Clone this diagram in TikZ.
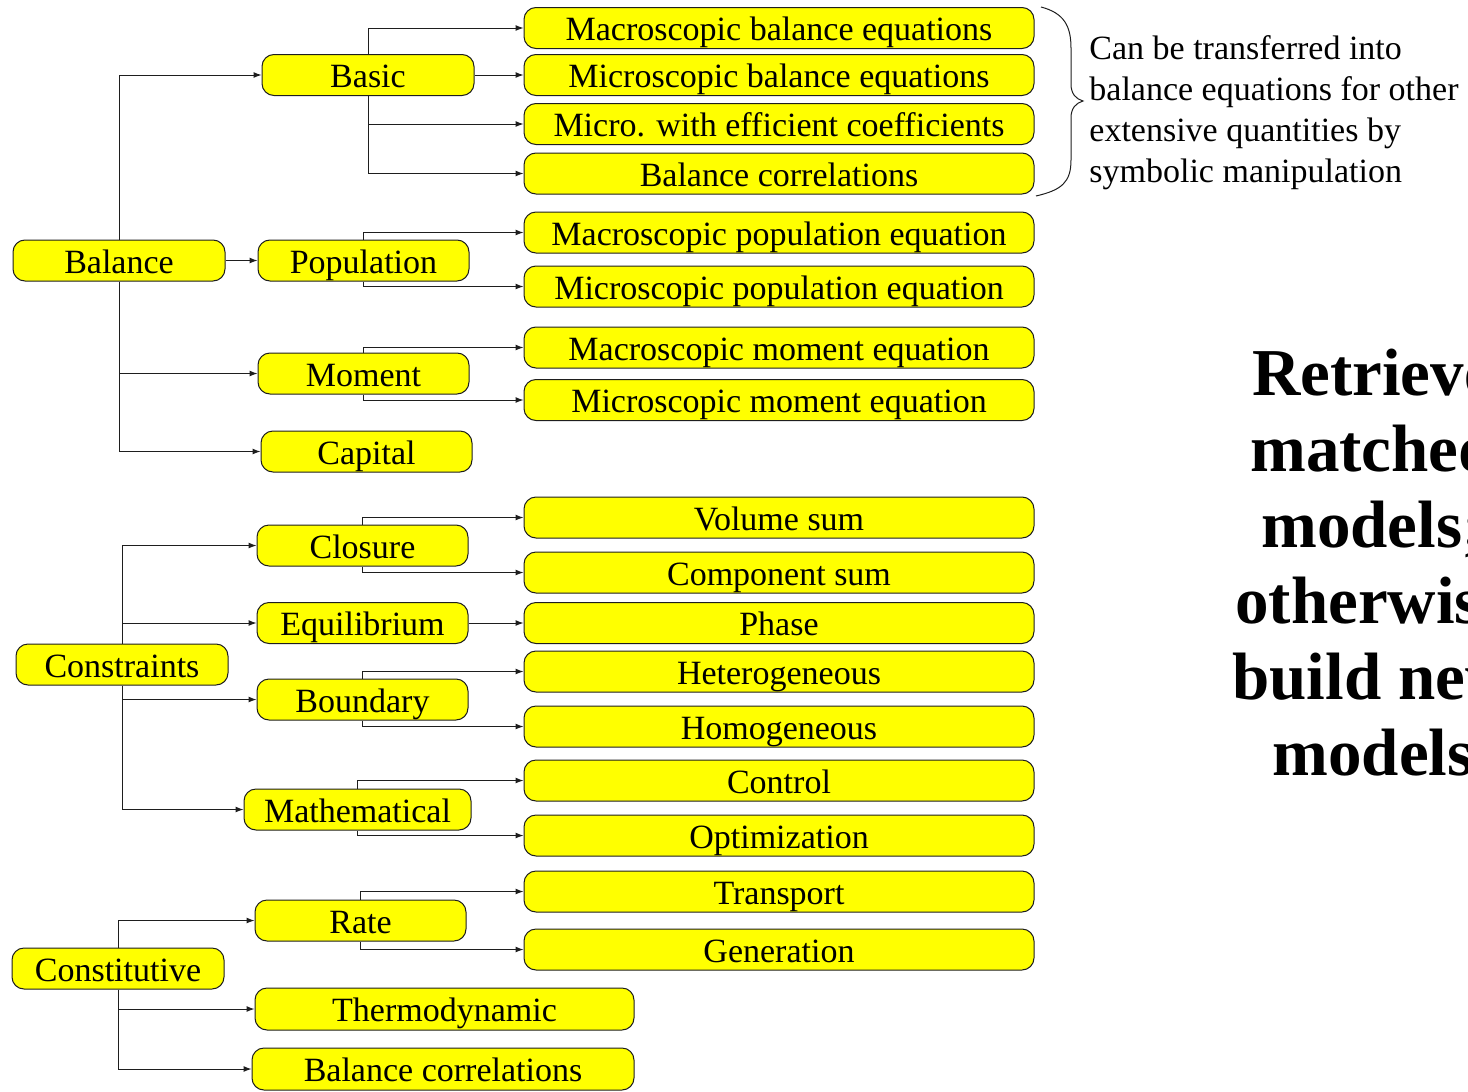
\documentclass[tikz,border=0pt]{standalone}
\usepackage{fontspec}
\setmainfont{Liberation Serif}
\usetikzlibrary{arrows.meta}
\definecolor{boxyellow}{RGB}{255,255,0}
\definecolor{edgegray}{RGB}{30,30,30}
\begin{document}
\begin{tikzpicture}[x=0.5pt,y=-0.5pt,
  box/.style={draw=edgegray, line width=0.5pt, fill=boxyellow, rounded corners=6pt,
    inner sep=0pt, minimum height=20.5pt, text height=13.5pt, text depth=1pt,
    font=\fontsize{17}{20}\selectfont},
  rbox/.style={box, minimum width=255pt},
  mbox/.style={box, minimum width=105.5pt},
  lbox/.style={box, minimum width=106pt},
  conn/.style={draw=edgegray, line width=0.5pt, -{Latex[length=4pt,width=3pt]}}]
\useasboundingbox (0,0) rectangle (1468,1092);

% left column
\node[lbox] (balance) at (119,260.5) {Balance};
\node[lbox] (constraints) at (122,664.5) {Constraints};
\node[lbox] (constitutive) at (118,968.5) {Constitutive};

% middle column
\node[box, minimum width=106pt] (basic) at (368,75) {Basic};
\node[mbox] (population) at (363.5,260.5) {Population};
\node[mbox] (moment) at (363.5,373.5) {Moment};
\node[mbox] (capital) at (366.5,451.5) {Capital};
\node[mbox] (closure) at (362.5,545.5) {Closure};
\node[mbox] (equilibrium) at (362.5,623) {Equilibrium};
\node[mbox] (boundary) at (362.5,699.5) {Boundary};
\node[box, minimum width=113.5pt] (mathematical) at (357.5,809.5) {Mathematical};
\node[mbox] (rate) at (360.5,920.5) {Rate};
\node[box, minimum width=189.5pt, minimum height=21pt] (thermo) at (444.5,1009) {Thermodynamic};
\node[box, minimum width=191pt, minimum height=21pt] (balcorr2) at (443,1069) {Balance correlations};

% right column
\node[rbox] (r1) at (779,28) {Macroscopic balance equations};
\node[rbox] (r2) at (779,75) {Microscopic balance equations};
\node[rbox] (r3) at (779,124) {Micro. with efficient coefficients};
\node[rbox] (r4) at (779,173.5) {Balance correlations};
\node[rbox] (r5) at (779,232.5) {Macroscopic population equation};
\node[rbox] (r6) at (779,286.5) {Microscopic population equation};
\node[rbox] (r7) at (779,347.5) {Macroscopic moment equation};
\node[rbox] (r8) at (779,400) {Microscopic moment equation};
\node[rbox] (r9) at (779,517.5) {Volume sum};
\node[rbox] (r10) at (779,572.5) {Component sum};
\node[rbox] (r11) at (779,623) {Phase};
\node[rbox] (r12) at (779,671.5) {Heterogeneous};
\node[rbox] (r13) at (779,726.5) {Homogeneous};
\node[rbox] (r14) at (779,780.5) {Control};
\node[rbox] (r15) at (779,835.5) {Optimization};
\node[rbox] (r16) at (779,891.5) {Transport};
\node[rbox] (r17) at (779,949.5) {Generation};

% connectors: Balance
\draw[conn] (balance.north) |- (basic.west);
\draw[conn] (balance.east) -- (population.west);
\draw[conn] (balance.south) |- (moment.west);
\draw[conn] (balance.south) |- (capital.west);
\draw[conn] (basic.north) |- (r1.west);
\draw[conn] (basic.east) -- (r2.west);
\draw[conn] (basic.south) |- (r3.west);
\draw[conn] (basic.south) |- (r4.west);
\draw[conn] (population.north) |- (r5.west);
\draw[conn] (population.south) |- (r6.west);
\draw[conn] (moment.north) |- (r7.west);
\draw[conn] (moment.south) |- (r8.west);

% connectors: Constraints
\draw[conn] (constraints.north) |- (closure.west);
\draw[conn] (constraints.north) |- (equilibrium.west);
\draw[conn] (constraints.south) |- (boundary.west);
\draw[conn] (constraints.south) |- (mathematical.west);
\draw[conn] (closure.north) |- (r9.west);
\draw[conn] (closure.south) |- (r10.west);
\draw[conn] (equilibrium.east) -- (r11.west);
\draw[conn] (boundary.north) |- (r12.west);
\draw[conn] (boundary.south) |- (r13.west);
\draw[conn] (mathematical.north) |- (r14.west);
\draw[conn] (mathematical.south) |- (r15.west);

% connectors: Constitutive
\draw[conn] (constitutive.north) |- (rate.west);
\draw[conn] (constitutive.south) |- (thermo.west);
\draw[conn] (constitutive.south) |- (balcorr2.west);
\draw[conn] (rate.north) |- (r16.west);
\draw[conn] (rate.south) |- (r17.west);

% brace
\draw[edgegray, line width=0.5pt]
  (1041,7) .. controls (1064,13) and (1071,26) .. (1071,48)
  -- (1071,84) .. controls (1071,94) and (1076,99) .. (1083,101)
  .. controls (1076,103) and (1071,108) .. (1071,118)
  -- (1071,160) .. controls (1071,182) and (1062,190) .. (1036,196);

% note text
\node[anchor=west, align=left, inner sep=0pt, font=\fontsize{17}{20.5}\selectfont] (note) at (1089,113)
  {Can be transferred into\\balance equations for other\\extensive quantities by\\symbolic manipulation};

% big text
\node[align=center, inner sep=0pt, font=\fontsize{33.5}{38}\selectfont\bfseries] (big) at (1373,563)
  {Retrieve\\matched\\models;\\otherwise\\build new\\models};
\end{tikzpicture}
\end{document}
